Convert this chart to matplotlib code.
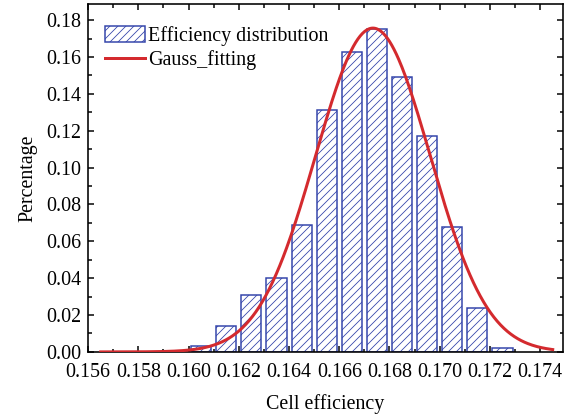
import numpy as np
import matplotlib
matplotlib.use("Agg")
import matplotlib.pyplot as plt
from matplotlib.ticker import MultipleLocator, FormatStrFormatter

# Histogram data (bin centers and heights)
bin_centers = [0.1605, 0.1615, 0.1625, 0.1635, 0.1645, 0.1655, 0.1665,
               0.1675, 0.1685, 0.1695, 0.1705, 0.1715, 0.1725]
percentages = [0.003, 0.014, 0.031, 0.040, 0.069, 0.131, 0.163,
               0.175, 0.149, 0.117, 0.068, 0.024, 0.002]

# Gauss fit parameters
gauss_amp = 0.1757
gauss_mu = 0.16734
gauss_sigma = 0.00228
fit_range = (0.1565, 0.1745)

plt.rcParams['font.family'] = ['Liberation Serif', 'DejaVu Serif']
plt.rcParams['hatch.color'] = '#3344aa'
plt.rcParams['hatch.linewidth'] = 0.8

fig = plt.figure(figsize=(8, 5.75), dpi=72)
ax = fig.add_axes([0.153, 0.150, 0.824, 0.840])

blue = '#3344aa'
red = '#d42a2e'

bars = ax.bar(bin_centers, percentages, width=0.0008, facecolor='white',
              edgecolor=blue, linewidth=1.5, hatch='///',
              label='Efficiency distribution', zorder=2)

xs = np.linspace(fit_range[0], fit_range[1], 400)
ys = gauss_amp * np.exp(-(xs - gauss_mu) ** 2 / (2 * gauss_sigma ** 2))
line, = ax.plot(xs, ys, color=red, linewidth=3, label='Gauss_fitting', zorder=3)

ax.set_xlim(0.156, 0.1749)
ax.set_ylim(0, 0.1887)
ax.xaxis.set_major_locator(MultipleLocator(0.002))
ax.xaxis.set_minor_locator(MultipleLocator(0.001))
ax.yaxis.set_major_locator(MultipleLocator(0.02))
ax.yaxis.set_minor_locator(MultipleLocator(0.01))
ax.xaxis.set_major_formatter(FormatStrFormatter('%.3f'))
ax.yaxis.set_major_formatter(FormatStrFormatter('%.2f'))

ax.tick_params(which='both', direction='in', top=True, right=True,
               labelsize=20, width=1.5)
ax.tick_params(which='major', length=6)
ax.tick_params(which='minor', length=3.5)
ax.tick_params(axis='x', pad=11)
ax.tick_params(axis='y', pad=7)
for s in ax.spines.values():
    s.set_linewidth(1.6)

ax.set_xlabel('Cell efficiency', fontsize=20, labelpad=12)
ax.set_ylabel('Percentage', fontsize=20, labelpad=9)

leg = ax.legend([bars, line], ['Efficiency distribution', 'Gauss_fitting'],
                loc='upper left', frameon=False, fontsize=20,
                handlelength=2.0, handleheight=0.8, handletextpad=0.15,
                labelspacing=0.2, borderaxespad=0.0, borderpad=0.0,
                bbox_to_anchor=(0.035, 0.937))

fig.savefig('out.png', dpi=72)
